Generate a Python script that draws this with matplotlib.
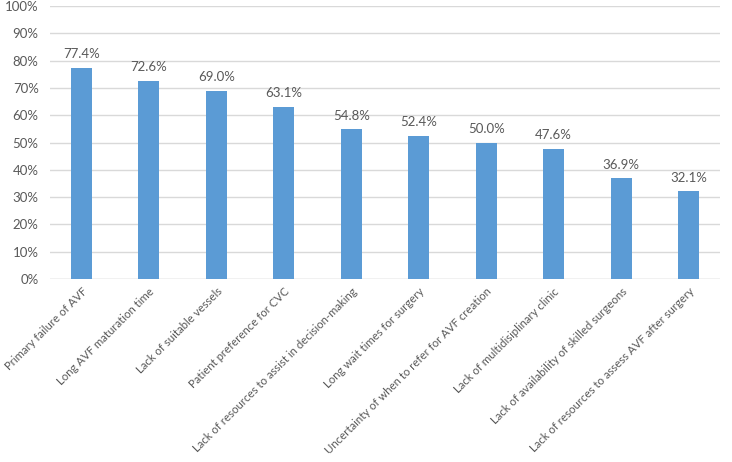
import matplotlib
matplotlib.use("Agg")
import matplotlib.pyplot as plt
import numpy as np

categories = ["Primary failure of AVF", "Long AVF maturation time", "Lack of suitable vessels",
              "Patient preference for CVC", "Lack of resources to assist in decision-making",
              "Long wait times for surgery", "Uncertainty of when to refer for AVF creation",
              "Lack of multidisiplinary clinic", "Lack of availability of skilled surgeons",
              "Lack of resources to assess AVF after surgery"]
values = [77.4, 72.6, 69.0, 63.1, 54.8, 52.4, 50.0, 47.6, 36.9, 32.1]

plt.rcParams['font.family'] = ['Lato', 'DejaVu Sans']
txt = '#595959'

fig = plt.figure(figsize=(7.32, 4.62), dpi=100)
ax = fig.add_axes([0.068, 0.396, 0.916, 0.591])
x = np.arange(len(categories))
ax.bar(x, values, width=0.31, color='#5B9BD5', zorder=3)
for xi, v in zip(x, values):
    ax.text(xi, v + 2.8, f"{v:.1f}%", ha='center', va='bottom', fontsize=9.5, color=txt)

ax.set_xlim(-0.47, 9.47)
ax.set_ylim(0, 100)
ax.set_yticks(np.arange(0, 101, 10))
ax.set_yticklabels([f"{t}%" for t in range(0, 101, 10)], fontsize=9.5, color=txt)
ax.set_xticks(x)
ax.set_xticklabels(categories, rotation=45, ha='right', rotation_mode='anchor', fontsize=8.2, color=txt)
ax.tick_params(axis='y', length=0, pad=8)
ax.tick_params(axis='x', length=0, pad=5)
ax.grid(axis='y', color='#d9d9d9', linewidth=1, zorder=0)
for s in ['top', 'right', 'left', 'bottom']:
    ax.spines[s].set_visible(False)
ax.axhline(0, color='#d9d9d9', linewidth=1, zorder=1)

fig.savefig("out.png", dpi=100)
